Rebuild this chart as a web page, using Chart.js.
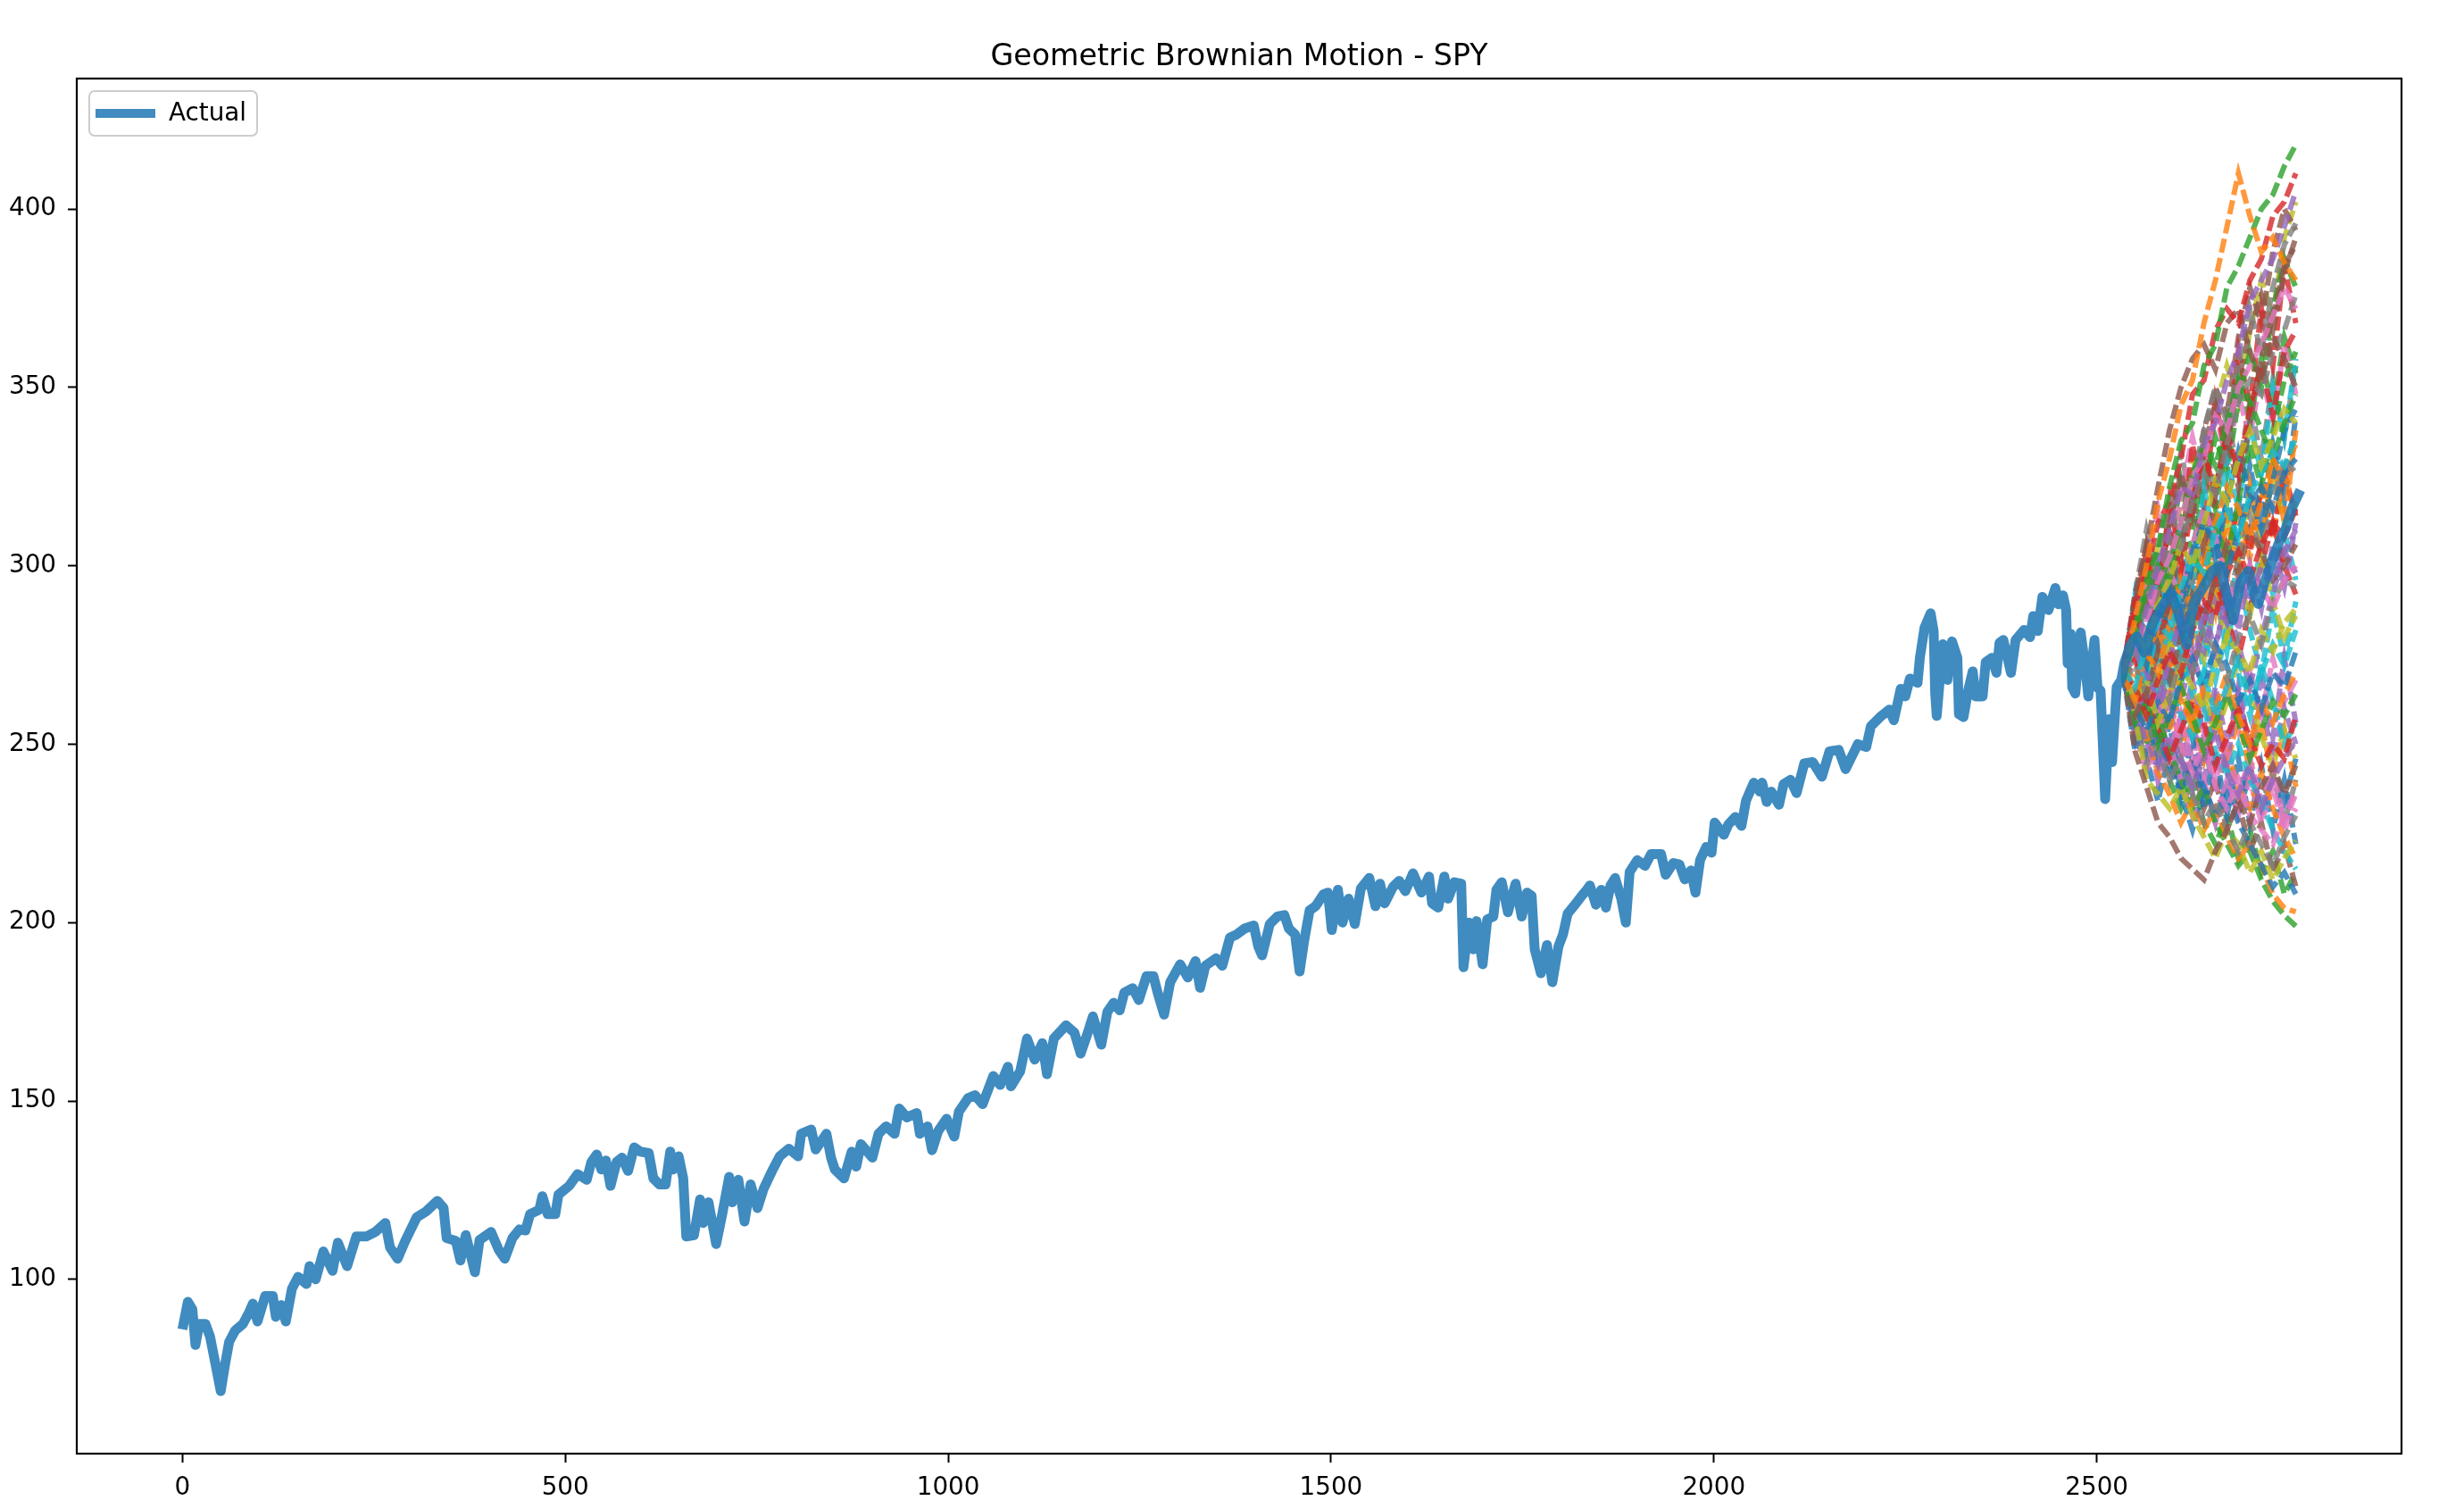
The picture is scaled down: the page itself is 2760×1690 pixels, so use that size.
<!DOCTYPE html>
<html>
<head>
<meta charset="utf-8">
<title>Geometric Brownian Motion - SPY</title>
<script src="https://cdn.jsdelivr.net/npm/chart.js@4.4.1/dist/chart.umd.min.js"></script>
<style>
  html, body { margin: 0; padding: 0; background: #fff; }
  #wrap { width: 2760px; height: 1690px; position: relative; }
</style>
</head>
<body>
<div id="wrap"><canvas id="gbmChart"></canvas></div>
<script>
// actual closing prices, [day, price]
const actual = [
  [0,86],[7,93.7],[13,91.6],[17,81.6],[22,87.5],[30,87.5],[36,84],[42,77.5],[50,68.7],[56,76.6],
  [61,82.5],[69,85.7],[79,87.5],[87,90.7],[92,93.2],[98,88.2],[108,95.3],[118,95.3],[122,89.5],[129,92.8],
  [135,88.2],[143,97.4],[151,100.7],[162,98.7],[166,103.7],[174,100],[184,107.8],[196,102.4],[203,110.3],[215,103.7],
  [227,112],[240,112],[252,113.3],[265,115.8],[271,109],[281,105.8],[291,110.8],[306,117.4],[318,119],[333,122],
  [341,120],[345,111.6],[357,110.8],[363,105.3],[370,112.4],[382,102],[388,111],[403,113.3],[413,108.3],[421,105.8],
  [431,111.6],[440,114],[448,113.7],[454,118.3],[466,119.5],[470,123.3],[477,118.3],[487,118.3],[491,123.7],[505,126.2],
  [516,129.5],[528,127.9],[534,132.9],[541,135],[547,130.8],[553,133.3],[559,126.2],[567,132.9],[574,134.1],[582,130.4],
  [590,137],[598,135.8],[609,135.4],[615,128.3],[623,126.6],[631,126.6],[637,135.8],[641,130.8],[648,134.5],[654,128.3],
  [658,112],[668,112.4],[676,122.4],[680,115.8],[687,121.6],[697,109.9],[705,118.3],[714,128.7],[718,121.6],[726,127.9],
  [734,116.2],[742,126.6],[751,120],[759,125.4],[771,130.8],[780,134.5],[792,136.6],[804,134.5],[808,140.8],[821,142],
  [827,136.4],[841,140.8],[847,134.1],[852,130.8],[864,128.3],[874,135.8],[880,131.6],[886,137.9],[901,134.1],[909,140.8],
  [919,142.9],[930,140.8],[936,147.9],[946,145.4],[959,146.6],[963,140.8],[973,142.9],[979,136.2],[987,141.6],[998,145],
  [1008,140],[1014,147],[1026,150.8],[1035,151.6],[1045,149.1],[1059,157],[1068,154.5],[1078,159.6],[1082,154.1],[1094,158.3],
  [1103,167.5],[1113,161.6],[1123,166.2],[1129,157.5],[1138,167.5],[1154,171.2],[1165,169.1],[1173,163.3],[1181,168.3],[1189,173.7],
  [1200,165.8],[1208,175],[1216,177.5],[1224,175.4],[1230,180.4],[1241,181.6],[1249,178.3],[1259,185],[1268,185],[1274,180],
  [1282,174.2],[1290,183.3],[1303,188.3],[1313,184.6],[1323,189.2],[1329,181.7],[1336,187.9],[1350,190],[1358,187.9],[1368,195.8],
  [1377,196.7],[1387,198.3],[1399,199.2],[1405,193.3],[1410,190.8],[1420,199.6],[1430,201.7],[1439,202.1],[1445,198.3],[1453,196.7],
  [1459,186.3],[1465,195],[1472,203.4],[1480,204.6],[1490,207.9],[1496,208.4],[1501,197.9],[1509,209.2],[1515,200],[1523,206.7],
  [1531,199.6],[1539,209.6],[1550,212.5],[1558,204.6],[1564,210.9],[1570,205.4],[1581,210],[1589,211.7],[1597,208.8],[1607,213.8],
  [1618,208.4],[1628,212.9],[1632,205.4],[1640,204.2],[1648,212.9],[1653,206.7],[1661,211.3],[1670,210.9],[1673,187.5],[1680,200],
  [1686,192.5],[1690,200.4],[1698,188.3],[1704,200.9],[1712,201.7],[1716,209.2],[1723,211.3],[1731,202.9],[1741,210.9],[1749,201.7],
  [1756,208.4],[1762,207.5],[1766,192.5],[1774,185.8],[1782,193.7],[1789,183.3],[1797,193.3],[1803,196.7],[1809,202.5],[1817,204.6],
  [1826,207.1],[1834,209.2],[1838,210.4],[1846,205],[1853,209.2],[1859,204.2],[1865,210.4],[1871,212.5],[1879,206.7],[1885,200],
  [1890,214.2],[1900,217.5],[1910,215.9],[1918,219.2],[1931,219.2],[1937,213.4],[1947,216.7],[1955,216.3],[1962,212.1],[1970,214.6],
  [1976,208.4],[1982,217.5],[1990,221.2],[1997,219.6],[2001,228],[2013,224.6],[2019,227.5],[2028,229.6],[2036,227.1],[2042,234.2],
  [2052,239.2],[2060,236.7],[2063,239.2],[2069,233.8],[2075,236.7],[2085,233],[2091,238.8],[2100,240],[2108,236.3],[2118,244.6],
  [2129,245],[2141,240.9],[2151,248],[2163,248.4],[2172,243],[2188,250],[2199,249.2],[2205,255],[2217,257.6],[2229,259.7],
  [2235,256.7],[2244,265.5],[2250,263.4],[2256,268.4],[2266,267.2],[2269,274.2],[2275,282.6],[2283,286.7],[2287,281.7],[2289,264.2],
  [2291,257.9],[2299,278],[2305,268],[2311,278.8],[2318,274.2],[2320,258.4],[2326,257.6],[2332,265],[2338,270.4],[2342,263.4],
  [2351,263.4],[2355,273],[2363,274.2],[2369,270],[2373,278.4],[2378,279.2],[2388,270],[2394,279.2],[2405,282],[2413,280],
  [2417,285.9],[2423,281.7],[2429,291.3],[2437,287.6],[2446,293.8],[2450,289.2],[2456,291.7],[2460,287.6],[2462,272.6],[2466,280.9],
  [2468,265.9],[2472,264.2],[2479,281.3],[2485,271.7],[2489,263.4],[2497,279.2],[2501,265.9],[2505,265],[2511,234.6],[2516,257],
  [2520,245],[2526,266],[2532,268],[2536,272.7],[2544,277.9],[2552,280.2],[2562,275.7],[2573,284],[2585,288.5],[2597,292.4],
  [2606,287],[2618,277.9],[2626,289.3],[2639,293.9],[2651,298.5],[2661,300],[2669,292.4],[2678,284.8],[2688,295.4],[2698,298.5],
  [2706,291.6],[2711,289.3],[2719,295.4],[2727,300],[2737,306],[2747,310.6],[2756,316.7],[2766,321.2]
];

// simulated paths share these days
const simDays = [2535, 2550, 2565, 2580, 2595, 2610, 2625, 2640, 2655, 2670, 2685, 2700, 2715, 2730, 2745, 2760];

const simPaths = [
  [270, 285, 300, 318, 330, 345, 352, 368, 380, 395, 410, 398, 388, 392, 385, 380],
  [268, 280, 296, 305, 322, 335, 340, 356, 362, 378, 384, 392, 400, 404, 412, 418],
  [272, 290, 298, 312, 318, 330, 348, 352, 366, 372, 368, 380, 386, 398, 402, 410],
  [270, 276, 288, 300, 310, 322, 320, 334, 340, 352, 360, 374, 380, 386, 395, 405],
  [271, 292, 305, 322, 338, 350, 358, 362, 355, 368, 372, 360, 352, 364, 358, 350],
  [269, 278, 284, 296, 302, 312, 325, 330, 342, 338, 350, 356, 362, 370, 378, 372],
  [270, 274, 286, 292, 308, 305, 318, 326, 320, 334, 346, 352, 348, 360, 366, 376],
  [268, 282, 276, 290, 296, 306, 300, 312, 324, 318, 330, 338, 328, 336, 344, 340],
  [271, 266, 278, 284, 280, 294, 302, 298, 310, 316, 308, 320, 326, 332, 328, 336],
  [270, 280, 272, 286, 294, 290, 304, 312, 306, 298, 310, 318, 322, 316, 326, 330],
  [269, 262, 276, 270, 284, 296, 288, 300, 312, 322, 316, 308, 318, 330, 324, 322],
  [272, 284, 292, 300, 296, 312, 326, 334, 328, 340, 352, 346, 338, 330, 340, 348],
  [270, 266, 258, 268, 276, 270, 282, 290, 286, 298, 304, 296, 306, 312, 308, 316],
  [271, 276, 270, 262, 274, 286, 280, 276, 290, 284, 296, 290, 300, 296, 304, 310],
  [269, 258, 264, 276, 268, 280, 292, 286, 296, 306, 298, 310, 304, 296, 300, 306],
  [270, 286, 294, 284, 298, 292, 306, 316, 308, 296, 288, 300, 294, 288, 296, 300],
  [268, 272, 264, 270, 262, 276, 270, 282, 276, 268, 280, 286, 278, 290, 296, 294],
  [271, 262, 268, 256, 264, 272, 266, 260, 272, 280, 276, 270, 282, 276, 284, 288],
  [270, 278, 266, 272, 282, 276, 264, 270, 258, 266, 274, 262, 270, 278, 272, 282],
  [269, 260, 254, 262, 256, 268, 274, 266, 278, 272, 262, 268, 260, 270, 266, 276],
  [272, 268, 276, 282, 274, 262, 256, 266, 260, 270, 258, 250, 262, 256, 264, 270],
  [270, 256, 262, 250, 258, 266, 258, 248, 256, 264, 256, 246, 254, 262, 258, 264],
  [268, 274, 262, 254, 246, 254, 262, 256, 244, 252, 260, 252, 244, 250, 246, 258],
  [271, 262, 250, 244, 252, 246, 238, 246, 254, 242, 236, 244, 232, 240, 246, 251],
  [270, 248, 238, 228, 224, 218, 215, 212, 220, 226, 234, 228, 238, 244, 236, 244],
  [269, 276, 268, 258, 262, 250, 242, 250, 238, 232, 240, 230, 226, 222, 230, 237],
  [270, 262, 256, 248, 240, 246, 236, 228, 234, 226, 220, 228, 222, 216, 224, 230],
  [271, 258, 240, 236, 232, 238, 230, 224, 218, 226, 222, 214, 220, 212, 218, 223],
  [270, 282, 272, 264, 270, 258, 252, 260, 248, 242, 250, 240, 234, 226, 220, 215],
  [268, 256, 262, 252, 244, 236, 244, 238, 230, 236, 228, 222, 216, 210, 214, 208],
  [270, 264, 252, 242, 236, 228, 234, 226, 232, 224, 218, 222, 216, 208, 204, 203],
  [271, 260, 250, 258, 248, 240, 232, 238, 228, 222, 216, 220, 212, 206, 202, 199],
  [270, 288, 276, 296, 310, 298, 318, 332, 320, 338, 326, 344, 356, 342, 360, 366],
  [269, 254, 268, 258, 272, 284, 270, 288, 276, 294, 282, 300, 288, 306, 294, 312],
  [271, 280, 292, 278, 290, 306, 318, 304, 322, 336, 322, 340, 358, 370, 384, 390],
  [270, 262, 250, 262, 248, 258, 244, 254, 240, 250, 236, 246, 234, 244, 228, 236],
  [268, 278, 290, 304, 318, 306, 324, 338, 350, 340, 356, 372, 360, 378, 390, 396],
  [271, 264, 276, 266, 280, 268, 284, 274, 290, 280, 296, 286, 302, 290, 280, 286],
  [270, 282, 268, 280, 266, 278, 292, 280, 268, 282, 270, 258, 272, 262, 250, 256],
  [269, 258, 270, 282, 296, 286, 300, 314, 302, 318, 332, 320, 310, 324, 338, 344],
  [272, 262, 274, 264, 254, 266, 256, 246, 258, 248, 238, 232, 242, 232, 224, 218],
  [270, 284, 274, 290, 302, 290, 304, 296, 312, 302, 318, 334, 322, 338, 352, 360],
  [268, 276, 264, 276, 290, 280, 270, 284, 296, 286, 274, 288, 300, 312, 300, 292],
  [271, 260, 272, 284, 272, 262, 276, 264, 278, 290, 278, 266, 280, 292, 304, 298],
  [270, 290, 306, 294, 312, 326, 314, 332, 346, 334, 352, 366, 376, 366, 382, 392],
  [269, 262, 252, 240, 250, 240, 230, 240, 228, 240, 230, 240, 228, 238, 226, 232],
  [270, 278, 268, 280, 270, 284, 296, 284, 298, 288, 302, 314, 304, 318, 330, 326],
  [271, 266, 256, 266, 278, 266, 254, 264, 252, 262, 274, 264, 252, 244, 254, 246],
  [270, 292, 278, 300, 286, 310, 296, 322, 306, 330, 316, 340, 326, 350, 336, 358],
  [269, 248, 262, 240, 256, 236, 252, 232, 248, 230, 246, 228, 244, 226, 240, 222],
  [271, 284, 266, 290, 272, 298, 280, 306, 288, 314, 296, 322, 304, 330, 312, 338],
  [270, 276, 290, 282, 300, 312, 304, 322, 336, 326, 346, 360, 350, 372, 386, 378],
  [268, 288, 304, 288, 318, 302, 334, 316, 346, 330, 360, 344, 372, 356, 384, 368],
  [271, 252, 268, 246, 262, 242, 258, 238, 262, 244, 266, 248, 270, 252, 274, 256],
  [270, 264, 252, 260, 246, 238, 246, 232, 240, 226, 234, 220, 228, 214, 222, 210],
  [269, 286, 300, 316, 300, 320, 336, 322, 344, 328, 348, 336, 354, 340, 362, 348],
  [272, 258, 244, 256, 240, 252, 236, 250, 236, 248, 232, 244, 230, 242, 228, 240],
  [270, 276, 290, 274, 292, 278, 296, 312, 294, 314, 300, 320, 306, 326, 312, 318],
  [268, 262, 278, 262, 282, 266, 288, 270, 292, 276, 298, 282, 270, 288, 274, 290],
  [271, 290, 272, 296, 280, 304, 288, 312, 296, 320, 304, 328, 312, 334, 318, 342],
  [270, 252, 266, 250, 264, 248, 262, 246, 260, 244, 258, 242, 256, 240, 254, 238],
  [269, 280, 298, 284, 304, 324, 310, 330, 316, 336, 354, 340, 358, 344, 364, 354],
  [270, 264, 280, 294, 278, 296, 282, 300, 318, 302, 318, 304, 322, 308, 326, 314],
  [271, 258, 272, 256, 270, 254, 268, 252, 266, 250, 264, 248, 262, 246, 260, 250],
  [270, 286, 300, 292, 312, 324, 316, 338, 350, 342, 364, 378, 368, 388, 400, 394],
  [268, 254, 242, 256, 244, 258, 246, 262, 250, 266, 254, 270, 258, 274, 262, 268],
  [271, 292, 310, 296, 314, 332, 316, 336, 320, 342, 326, 346, 330, 352, 336, 356],
  [270, 282, 294, 306, 298, 318, 330, 322, 344, 356, 346, 366, 380, 370, 392, 402],
  [269, 276, 262, 276, 292, 276, 294, 280, 298, 284, 302, 288, 306, 292, 310, 296],
  [270, 260, 246, 234, 248, 236, 226, 238, 228, 240, 230, 242, 232, 244, 234, 246],
  [271, 282, 296, 282, 300, 286, 306, 290, 310, 296, 316, 302, 322, 308, 328, 334],
  [270, 258, 246, 252, 240, 232, 240, 228, 222, 230, 218, 226, 214, 220, 208, 214]
];

const xTicks = [0, 500, 1000, 1500, 2000, 2500];
const yTicks = [100, 150, 200, 250, 300, 350, 400];

// matplotlib tab10, a bit transparent
const palette = [
  'rgba(31,119,180,0.8)', 'rgba(255,127,14,0.8)', 'rgba(44,160,44,0.8)', 'rgba(214,39,40,0.8)',
  'rgba(148,103,189,0.8)', 'rgba(140,86,75,0.8)', 'rgba(227,119,194,0.8)', 'rgba(127,127,127,0.8)',
  'rgba(188,189,34,0.8)', 'rgba(23,190,207,0.8)'
];
const actualColor = 'rgba(31,119,180,0.85)';

const datasets = [{
  label: 'Actual',
  data: actual.map(p => ({ x: p[0], y: p[1] })),
  borderColor: actualColor,
  backgroundColor: actualColor,
  borderWidth: 11,
  borderJoinStyle: 'round',
  order: 0
}];

simPaths.forEach((path, i) => {
  datasets.push({
    label: 'sim ' + (i + 1),
    data: path.map((v, j) => ({ x: simDays[j], y: v })),
    borderColor: palette[(i + 1) % palette.length],
    borderWidth: 6,
    borderDash: [16, 6],
    order: 1
  });
});

// white page, full box round the axes, legend in the upper left corner
const framePlugin = {
  id: 'framePlugin',
  beforeDraw(chart) {
    const ctx = chart.ctx;
    ctx.save();
    ctx.fillStyle = '#fff';
    ctx.fillRect(0, 0, chart.width, chart.height);
    ctx.restore();
  },
  afterDraw(chart) {
    const ctx = chart.ctx;
    const a = chart.chartArea;
    ctx.save();
    ctx.strokeStyle = '#000';
    ctx.lineWidth = 2.2;
    ctx.strokeRect(a.left, a.top, a.right - a.left, a.bottom - a.top);

    // legend box
    const x0 = a.left + 14, y0 = a.top + 14;
    ctx.beginPath();
    ctx.roundRect(x0, y0, 188, 50, 6);
    ctx.fillStyle = 'rgba(255,255,255,0.8)';
    ctx.fill();
    ctx.strokeStyle = '#cccccc';
    ctx.lineWidth = 2;
    ctx.stroke();

    const yMid = y0 + 25;
    ctx.beginPath();
    ctx.moveTo(x0 + 7, yMid);
    ctx.lineTo(x0 + 74, yMid);
    ctx.strokeStyle = actualColor;
    ctx.lineWidth = 10;
    ctx.lineCap = 'butt';
    ctx.stroke();

    ctx.fillStyle = '#000';
    ctx.font = '27.8px "DejaVu Sans"';
    ctx.textBaseline = 'middle';
    ctx.textAlign = 'left';
    ctx.fillText('Actual', x0 + 89, yMid + 1);
    ctx.restore();
  }
};

const tickFont = { family: 'DejaVu Sans', size: 27.8 };

new Chart(document.getElementById('gbmChart'), {
  type: 'line',
  data: { datasets: datasets },
  options: {
    responsive: true,
    maintainAspectRatio: false,
    devicePixelRatio: 1,
    animation: false,
    events: [],
    layout: { padding: { left: 0, right: 70, top: 0, bottom: 0 } },
    elements: {
      point: { radius: 0 },
      line: { tension: 0, borderCapStyle: 'butt' }
    },
    plugins: {
      title: {
        display: true,
        fullSize: false,
        text: 'Geometric Brownian Motion - SPY',
        color: '#000',
        font: { family: 'DejaVu Sans', size: 33.3, weight: 'normal' },
        padding: { top: 44, bottom: 4 }
      },
      legend: { display: false },
      tooltip: { enabled: false }
    },
    scales: {
      x: {
        type: 'linear',
        min: -138,
        max: 2898,
        border: { display: false },
        grid: { drawOnChartArea: false, drawTicks: true, tickLength: 10, tickWidth: 2, tickColor: '#000' },
        afterBuildTicks: (s) => { s.ticks = xTicks.map(v => ({ value: v })); },
        ticks: {
          color: '#000',
          font: tickFont,
          padding: 12,
          maxRotation: 0,
          autoSkip: false,
          callback: (v) => String(v)
        },
        afterFit: (s) => { s.height = 62; }
      },
      y: {
        type: 'linear',
        min: 51.15,
        max: 436.56,
        border: { display: false },
        grid: { drawOnChartArea: false, drawTicks: true, tickLength: 10, tickWidth: 2, tickColor: '#000' },
        afterBuildTicks: (s) => { s.ticks = yTicks.map(v => ({ value: v })); },
        ticks: {
          color: '#000',
          font: tickFont,
          padding: 13,
          autoSkip: false,
          callback: (v) => String(v)
        },
        afterFit: (s) => { s.width = 86; }
      }
    }
  },
  plugins: [framePlugin]
});
</script>
</body>
</html>
